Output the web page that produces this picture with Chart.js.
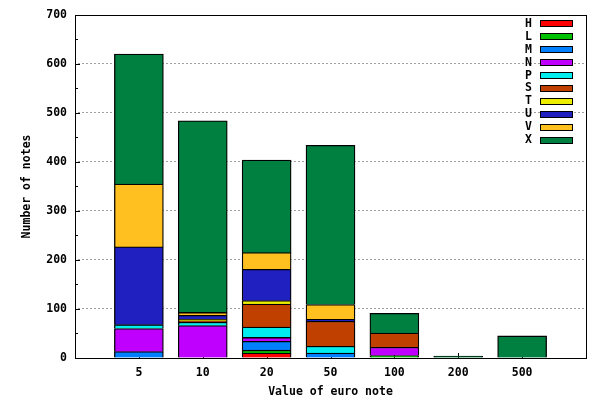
<!DOCTYPE html>
<html>
<head>
<meta charset="utf-8">
<script src="https://cdn.jsdelivr.net/npm/chart.js@4/dist/chart.umd.min.js"></script>
<style>
html,body{margin:0;padding:0;background:#fff;}
#wrap{width:600px;height:400px;}
</style>
</head>
<body>
<div id="wrap"><canvas id="c" width="600" height="400"></canvas></div>
<script>
const categories = ['5', '10', '20', '50', '100', '200', '500'];
const seriesNames = ['H', 'L', 'M', 'N', 'P', 'S', 'T', 'U', 'V', 'X'];
const H = [0, 0, 10, 0, 0, 0, 0];
const L = [0, 0, 6, 0, 5, 0, 0];
const M = [13, 0, 18, 10, 0, 0, 0];
const N = [47, 66, 8, 0, 17, 0, 0];
const P = [8, 7, 21, 14, 0, 0, 0];
const S = [0, 3, 47, 51, 29, 0, 0];
const T = [0, 3, 7, 0, 0, 0, 0];
const U = [159, 8, 64, 4, 0, 0, 0];
const V = [128, 6, 34, 30, 0, 0, 0];
const X = [265, 391, 189, 325, 40, 4, 45];
const yTicks = [0, 100, 200, 300, 400, 500, 600, 700];

const seriesValues = [H, L, M, N, P, S, T, U, V, X];
const colors = ['#ff0000', '#00c000', '#0080ff', '#c000ff', '#00eeee', '#c04000', '#eeee00', '#2020c0', '#ffc020', '#008040'];

const FONT = {family: '"DejaVu Sans Mono", monospace', size: 11.5, weight: 'bold'};

const datasets = seriesNames.map((name, k) => ({
  label: name,
  data: seriesValues[k].map((v, i) => ({x: i, y: v})),
  backgroundColor: colors[k],
  borderColor: '#000',
  borderWidth: 1.3,
  barThickness: 49
}));

const gnuplotLook = {
  id: 'gnuplotLook',
  beforeDatasetsDraw(chart) {
    const ctx = chart.ctx, a = chart.chartArea;
    const xs = chart.scales.x, ys = chart.scales.y;
    ctx.save();
    ctx.strokeStyle = '#000';
    ctx.lineWidth = 1;
    ctx.beginPath();
    for (let v = 0; v <= 700; v += 50) {
      const y = Math.round(ys.getPixelForValue(v)) + 0.5;
      const len = (v % 100 === 0) ? 5 : 3;
      ctx.moveTo(a.left, y); ctx.lineTo(a.left + len, y);
    }
    categories.forEach((c, i) => {
      const x = Math.round(xs.getPixelForValue(i)) + 0.5;
      ctx.moveTo(x, a.bottom); ctx.lineTo(x, a.bottom - 5);
    });
    ctx.stroke();
    ctx.restore();
  },
  afterDatasetsDraw(chart) {
    const ctx = chart.ctx, a = chart.chartArea;
    ctx.save();
    ctx.strokeStyle = '#000';
    ctx.lineWidth = 1;
    ctx.strokeRect(Math.round(a.left) + 0.5, Math.round(a.top) + 0.5,
                   Math.round(a.right - a.left), Math.round(a.bottom - a.top));
    // legend
    ctx.font = 'bold 11.5px "DejaVu Sans Mono", monospace';
    ctx.textAlign = 'right';
    ctx.textBaseline = 'middle';
    chart.data.datasets.forEach((ds, k) => {
      const yc = 23.3 + k * 12.93;
      ctx.fillStyle = '#000';
      ctx.fillText(ds.label, 532, yc + 0.5);
      const by = Math.round(yc - 3) + 0.5;
      ctx.fillStyle = ds.backgroundColor;
      ctx.fillRect(540.5, by, 32, 6);
      ctx.strokeRect(540.5, by, 32, 6);
    });
    ctx.restore();
  }
};

new Chart(document.getElementById('c'), {
  type: 'bar',
  data: {datasets},
  plugins: [gnuplotLook],
  options: {
    responsive: false,
    animation: false,
    layout: {padding: {left: 0, right: 14, top: 14, bottom: 0}},
    plugins: {legend: {display: false}, tooltip: {enabled: false}},
    scales: {
      x: {
        type: 'linear',
        stacked: true,
        offset: false,
        min: -1, max: 7,
        afterFit(s) { s.height = 42; },
        afterBuildTicks(s) { s.ticks = categories.map((c, i) => ({value: i})); },
        ticks: {
          autoSkip: false, maxRotation: 0,
          callback: (v) => categories[v] !== undefined ? categories[v] : '',
          font: FONT, color: '#000', padding: 8
        },
        grid: {display: false, drawTicks: false},
        border: {display: false},
        title: {display: true, text: 'Value of euro note', font: FONT, color: '#000', padding: {top: 0, bottom: 1}}
      },
      y: {
        stacked: true,
        min: 0, max: 700,
        afterFit(s) { s.width = 75; },
        afterBuildTicks(s) { s.ticks = yTicks.map(v => ({value: v})); },
        ticks: {font: FONT, color: '#000', padding: 8},
        grid: {
          drawTicks: false,
          color: (c) => (c.tick && c.tick.value > 0 && c.tick.value < 700) ? '#a0a0a0' : 'rgba(0,0,0,0)',
          lineWidth: 1
        },
        border: {display: false, dash: [2, 2], dashOffset: 1},
        title: {display: true, text: 'Number of notes', font: FONT, color: '#000', padding: {top: 20, bottom: 0}}
      }
    }
  }
});
</script>
</body>
</html>
